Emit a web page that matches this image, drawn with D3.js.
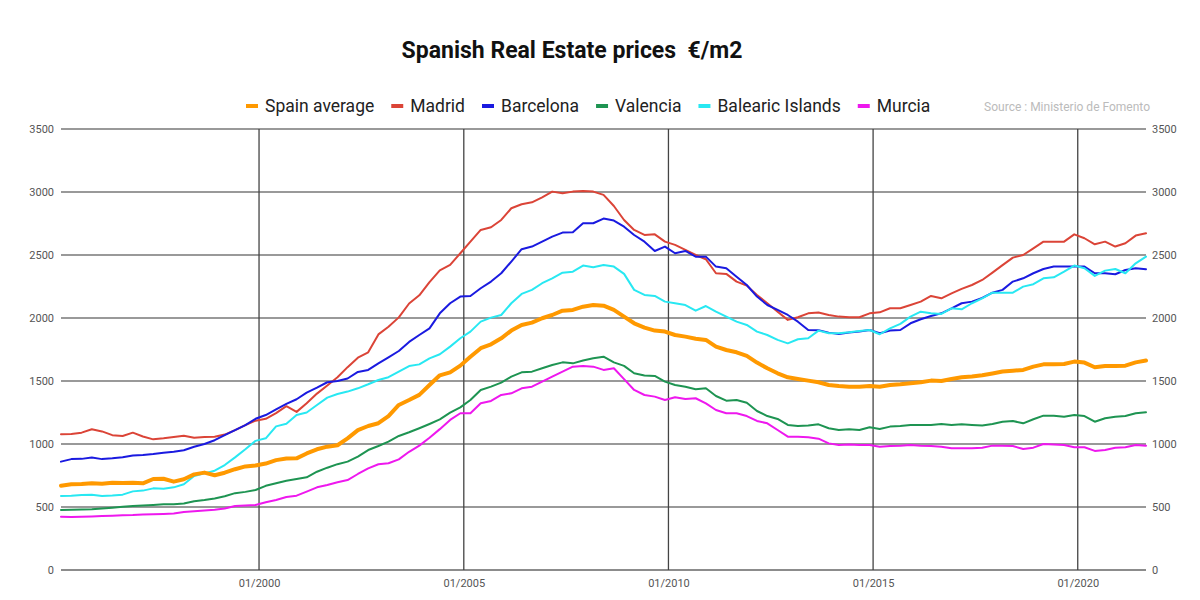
<!DOCTYPE html>
<html>
<head>
<meta charset="utf-8">
<script src="https://cdn.jsdelivr.net/npm/d3@7"></script>
<style>
  html, body { margin: 0; padding: 0; background: #fff; }
  svg { display: block; font-family: Roboto, "Noto Sans", sans-serif; }
</style>
</head>
<body>
<svg id="chart" width="1200" height="600"></svg>
<script>
// ---- data (quarterly, March 1995 .. September 2021), €/m2 ----
const seriesNames = ["Spain average", "Madrid", "Barcelona", "Valencia", "Balearic Islands", "Murcia"];
const seriesColors = ["#ff9900", "#db4437", "#1a1ae0", "#1e9452", "#28e8f2", "#ee18ee"];

const spainAverage = [669,680,682,688,684,693,690,692,688,722,724,701,720,759,773,752,772,800,822,830,
  845,872,885,886,925,958,979,990,1045,1110,1143,1165,1222,1310,1349,1390,1468,1545,
  1569,1622,1693,1760,1791,1839,1900,1945,1963,1998,2024,2058,2064,2090,2103,2098,2064,2011,
  1958,1924,1900,1892,1865,1852,1836,1826,1773,1746,1728,1699,1646,1601,1561,1529,1516,1503,1490,
  1468,1460,1455,1455,1460,1455,1468,1474,1482,1490,1503,1500,1516,1529,1535,1545,1560,1575,
  1582,1588,1614,1632,1632,1635,1654,1646,1609,1619,1619,1622,1648,1662];
const madrid = [1077,1080,1090,1117,1100,1070,1064,1090,1060,1037,1045,1055,1066,1050,1055,1058,1075,1110,1150,1185,
  1200,1245,1300,1255,1323,1400,1465,1530,1610,1685,1728,1870,1930,2005,2115,2180,2285,2378,
  2421,2514,2606,2699,2720,2778,2871,2903,2918,2958,3003,2990,3003,3008,3003,2977,2889,2778,
  2699,2659,2664,2606,2580,2540,2500,2466,2355,2350,2289,2257,2183,2117,2050,1985,2006,2037,2043,
  2024,2011,2006,2006,2037,2045,2077,2077,2103,2130,2175,2156,2196,2231,2262,2302,2360,2420,
  2479,2500,2553,2606,2606,2606,2664,2633,2585,2606,2567,2593,2654,2672];
const barcelona = [860,880,882,892,880,886,894,908,912,920,930,938,950,978,1000,1030,1070,1110,1150,1200,
  1230,1275,1318,1355,1408,1447,1490,1500,1520,1572,1588,1640,1688,1738,1810,1865,1918,2037,
  2117,2170,2175,2236,2289,2355,2448,2546,2567,2606,2646,2678,2680,2752,2752,2789,2773,2725,
  2659,2606,2532,2567,2514,2532,2487,2487,2408,2395,2328,2262,2170,2103,2064,2024,1971,1905,1902,
  1884,1873,1884,1892,1905,1879,1900,1905,1958,1990,2016,2037,2077,2117,2130,2160,2201,2223,
  2289,2315,2355,2389,2408,2408,2408,2408,2355,2355,2347,2381,2395,2387];
const valencia = [476,478,480,482,488,495,502,507,511,516,521,521,528,545,555,568,585,610,620,635,
  668,688,708,722,736,780,812,840,860,900,952,984,1019,1064,1093,1125,1159,1195,
  1249,1291,1349,1429,1455,1487,1535,1569,1574,1601,1627,1648,1640,1662,1680,1693,1648,1620,
  1561,1543,1540,1495,1468,1455,1434,1442,1381,1344,1349,1328,1262,1222,1199,1151,1143,1146,1156,
  1125,1111,1117,1111,1133,1119,1138,1143,1151,1151,1151,1159,1151,1156,1151,1146,1159,1177,
  1183,1164,1196,1225,1225,1217,1230,1222,1177,1204,1217,1222,1244,1252];
const balearicIslands = [587,590,595,597,588,592,598,624,630,648,645,656,680,746,767,788,833,894,958,1025,
  1045,1140,1160,1230,1250,1310,1368,1397,1416,1442,1474,1508,1530,1574,1619,1632,1680,1712,
  1773,1839,1892,1971,2003,2024,2117,2191,2223,2276,2315,2360,2368,2416,2403,2421,2408,2350,
  2223,2183,2175,2130,2117,2103,2058,2095,2050,2011,1971,1945,1892,1865,1826,1799,1831,1839,1900,
  1879,1879,1887,1897,1905,1871,1918,1953,2011,2050,2037,2032,2077,2069,2117,2156,2201,2201,
  2201,2249,2268,2315,2323,2368,2416,2395,2334,2376,2389,2355,2434,2487];
const murcia = [423,420,422,425,428,431,434,436,440,442,445,448,460,466,472,478,488,508,512,516,
  537,556,580,590,622,656,675,696,714,762,807,839,847,878,938,987,1050,1118,
  1191,1244,1244,1323,1342,1389,1402,1442,1455,1495,1535,1574,1614,1619,1614,1588,1601,1515,
  1429,1389,1376,1349,1371,1357,1363,1323,1270,1244,1244,1222,1183,1164,1111,1058,1058,1053,1042,
  1005,992,997,992,992,979,984,987,992,987,984,979,966,966,966,971,987,987,
  984,960,971,1000,997,992,974,974,945,953,971,974,992,987];

const yTicks = [0, 500, 1000, 1500, 2000, 2500, 3000, 3500];
const xTickLabels = ["01/2000", "01/2005", "01/2010", "01/2015", "01/2020"];
const titleText = "Spanish Real Estate prices  €/m2";
const sourceText = "Source : Ministerio de Fomento";

const allSeries = [spainAverage, madrid, barcelona, valencia, balearicIslands, murcia];
// quarter dates: March 1995, June 1995, ...
const quarterDates = d3.range(spainAverage.length).map(i => new Date(1995, 2 + 3 * i, 1));
const xTickDates = xTickLabels.map(s => d3.timeParse("%m/%Y")(s));

// ---- layout ----
const svg = d3.select("#chart");
const plotLeft = 61, plotRight = 1146, plotTop = 129, plotBottom = 570;

const x = d3.scaleTime().domain([quarterDates[0], quarterDates[quarterDates.length - 1]]).range([plotLeft, plotRight]);
const y = d3.scaleLinear().domain([0, 3500]).range([plotBottom, plotTop]);

// title
svg.append("text").attr("x", 572).attr("y", 58).attr("text-anchor", "middle")
  .attr("font-size", 23).attr("font-weight", "bold").attr("fill", "#111")
  .style("white-space", "pre").attr("xml:space", "preserve").text(titleText);

// horizontal gridlines
svg.append("g").selectAll("line").data(yTicks).join("line")
  .attr("x1", plotLeft).attr("x2", plotRight).attr("y1", d => y(d)).attr("y2", d => y(d))
  .attr("stroke", d => d === 0 ? "#666" : "#777").attr("stroke-width", 1.6);

// vertical year lines
svg.append("g").selectAll("line").data(xTickDates).join("line")
  .attr("x1", d => x(d)).attr("x2", d => x(d)).attr("y1", plotTop).attr("y2", plotBottom)
  .attr("stroke", "#444").attr("stroke-width", 1.3);

const fmt = d3.format("d");

// left axis labels
const yAxisL = d3.axisLeft(y).tickValues(yTicks).tickFormat(fmt).tickSize(0).tickPadding(7);
const gl = svg.append("g").attr("transform", `translate(${plotLeft},0)`).call(yAxisL);
gl.select(".domain").remove();
gl.selectAll("text").attr("font-size", 11).attr("fill", "#555").attr("font-family", "Roboto");

// right axis labels
const yAxisR = d3.axisRight(y).tickValues(yTicks).tickFormat(fmt).tickSize(0).tickPadding(6);
const gr = svg.append("g").attr("transform", `translate(${plotRight},0)`).call(yAxisR);
gr.select(".domain").remove();
gr.selectAll("text").attr("font-size", 11).attr("fill", "#555").attr("font-family", "Roboto");

// x axis labels
const xAxis = d3.axisBottom(x).tickValues(xTickDates).tickFormat((d, i) => xTickLabels[i]).tickSize(0).tickPadding(9);
const gx = svg.append("g").attr("transform", `translate(0,${plotBottom})`).call(xAxis);
gx.select(".domain").remove();
gx.selectAll("text").attr("font-size", 11).attr("fill", "#555").attr("font-family", "Roboto");

// lines
const line = d3.line().x((d, i) => x(quarterDates[i])).y(d => y(d)).curve(d3.curveLinear);
const drawOrder = [1, 2, 3, 4, 5, 0];
drawOrder.forEach(k => {
  svg.append("path").datum(allSeries[k]).attr("d", line)
    .attr("fill", "none").attr("stroke", seriesColors[k])
    .attr("stroke-width", k === 0 ? 4 : 2).attr("stroke-linejoin", "round").attr("stroke-linecap", "round");
});

// legend
const legend = svg.append("g");
let lx = 246;
seriesNames.forEach((name, k) => {
  legend.append("line").attr("x1", lx).attr("x2", lx + 12).attr("y1", 106).attr("y2", 106)
    .attr("stroke", seriesColors[k]).attr("stroke-width", 4);
  const t = legend.append("text").attr("x", lx + 19).attr("y", 112).attr("font-size", 17.5)
    .attr("fill", "#222").text(name);
  lx += 19 + t.node().getComputedTextLength() + 17;
});

// source
svg.append("text").attr("x", 1150).attr("y", 111).attr("text-anchor", "end")
  .attr("font-size", 12).attr("fill", "#bbb").text(sourceText);
</script>
</body>
</html>
